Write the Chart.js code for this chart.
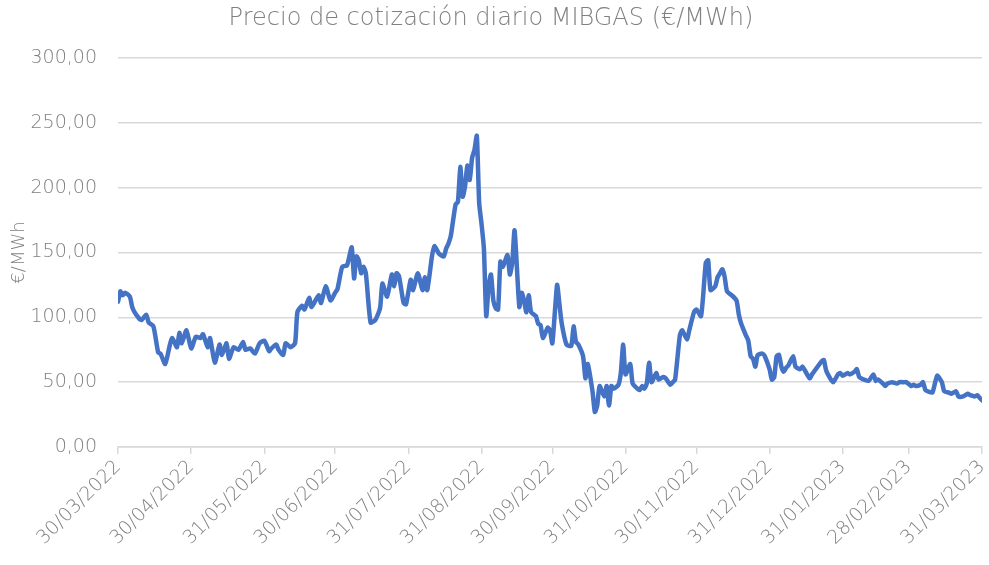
<!DOCTYPE html>
<html>
<head>
<meta charset="utf-8">
<script src="https://cdn.jsdelivr.net/npm/chart.js@4"></script>
<style>
  html, body { margin: 0; padding: 0; background: #fff; }
  #wrap { width: 989px; height: 565px; }
</style>
</head>
<body>
<div id="wrap"><canvas id="chart" width="989" height="565"></canvas></div>
<script>
// dias desde el 30/03/2022 y precio (€/MWh)
const days = [0,1,2,3,5,6,7,9,10,12,13,15,17,18,20,22,23,25,26,27,29,31,33,35,36,38,39,41,43,44,46,47,49,51,53,54,56,58,60,62,64,65,67,68,70,71,73,75,76,78,79,81,82,85,86,88,90,92,93,95,97,99,100,101,102,103,104,105,107,109,111,112,114,116,117,118,119,121,122,124,125,127,129,130,131,133,134,136,138,139,140,141,143,144,145,146,147,148,149,150,151,152,153,154,155,156,157,158,159,160,161,162,163,165,166,167,168,170,171,172,173,174,175,177,178,179,180,182,183,184,186,187,188,190,192,193,194,195,197,198,199,201,202,203,204,206,207,208,209,210,212,213,214,215,217,218,220,221,222,223,224,225,226,228,229,231,232,234,235,236,238,239,241,242,244,245,247,249,250,251,253,254,255,256,257,258,260,262,263,264,266,267,268,269,270,271,273,274,276,277,278,279,280,281,282,283,284,286,287,289,290,291,293,294,296,298,299,300,302,303,305,306,307,309,310,312,313,314,316,318,320,321,322,324,325,326,328,330,331,333,334,336,337,338,340,341,342,343,345,347,349,350,352,353,355,356,358,360,361,363,364,365,366];
const prices = [112,120,117,119,116,108,104,99,98,102,96,93,73,72,64,79,84,77,88,80,90,76,85,84,87,77,84,65,79,71,80,68,77,75,81,75,76,72,80,82,74,76,79,75,71,80,77,80,104,109,106,115,108,117,111,124,113,119,122,139,140,154,130,147,144,134,139,134,96,98,107,126,116,133,124,134,132,111,110,129,121,134,121,131,121,147,155,149,147,153,157,163,187,189,216,193,201,217,206,223,229,240,188,172,153,101,124,133,113,107,106,143,139,148,133,142,167,108,119,113,104,117,104,101,95,94,84,92,90,80,125,110,95,79,78,93,81,79,70,53,64,43,27,32,47,39,47,32,47,45,48,57,79,56,64,49,45,44,47,45,49,65,50,57,52,54,53,48,50,52,86,90,83,90,104,106,101,142,144,121,124,131,134,137,131,120,117,113,102,95,86,82,70,68,62,71,72,70,60,52,54,70,71,62,58,61,63,70,62,60,62,59,53,56,61,66,67,59,52,50,56,57,55,57,56,58,60,54,52,51,56,51,52,49,47,49,50,49,50,50,50,47,48,47,48,50,44,43,42,55,50,43,42,41,43,39,39,41,40,39,40,38,36];

const tickDays = [0, 31, 62, 92, 123, 154, 184, 215, 245, 276, 307, 335, 366];
const tickLabels = ['30/03/2022','30/04/2022','31/05/2022','30/06/2022','31/07/2022','31/08/2022','30/09/2022','31/10/2022','30/11/2022','31/12/2022','31/01/2023','28/02/2023','31/03/2023'];
const yTicks = [0, 50, 100, 150, 200, 250, 300];

const fontFamily = "'DejaVu Sans', sans-serif";
const grey = '#808080';
const gridColor = '#d9d9d9';

const points = days.map((d, i) => ({ x: d, y: prices[i] }));

const ctx = document.getElementById('chart').getContext('2d');
new Chart(ctx, {
  type: 'line',
  data: {
    datasets: [{
      label: 'MIBGAS',
      data: points,
      borderColor: '#4472C4',
      borderWidth: 4.5,
      pointRadius: 0,
      tension: 0.2,
      borderJoinStyle: 'round',
      borderCapStyle: 'round'
    }]
  },
  options: {
    responsive: false,
    animation: false,
    layout: { padding: { left: 0, right: 7, top: 0, bottom: 0 } },
    plugins: {
      legend: { display: false },
      tooltip: { enabled: false },
      title: {
        display: true,
        text: 'Precio de cotización diario MIBGAS (€/MWh)',
        color: grey,
        font: { family: fontFamily, size: 24, weight: 200, lineHeight: 1.2 },
        padding: { top: 4, bottom: 25.2 }
      }
    },
    scales: {
      x: {
        type: 'linear',
        min: 0,
        max: 366,
        afterFit: s => { s.height = 118; s.paddingRight = 0; },
        afterBuildTicks: s => { s.ticks = tickDays.map(v => ({ value: v })); },
        ticks: {
          autoSkip: false,
          maxRotation: 45,
          minRotation: 45,
          color: grey,
          padding: 2,
          font: { family: fontFamily, size: 19, weight: 200 },
          callback: v => tickLabels[tickDays.indexOf(v)]
        },
        grid: { drawOnChartArea: false, drawTicks: true, tickLength: 7, color: gridColor, lineWidth: 1.5 },
        border: { display: true, color: gridColor, width: 1.5 }
      },
      y: {
        min: 0,
        max: 300,
        afterFit: s => { s.width = 118; },
        afterBuildTicks: s => { s.ticks = yTicks.map(v => ({ value: v })); },
        ticks: {
          color: grey,
          padding: 21,
          font: { family: fontFamily, size: 19, weight: 200 },
          callback: v => v.toFixed(2).replace('.', ',')
        },
        grid: { color: gridColor, lineWidth: 1.5, drawTicks: false },
        border: { display: false },
        title: {
          display: true,
          text: '€/MWh',
          color: grey,
          font: { family: fontFamily, size: 18, weight: 200 },
          padding: { top: 9, bottom: 0 }
        }
      }
    }
  }
});
</script>
</body>
</html>
